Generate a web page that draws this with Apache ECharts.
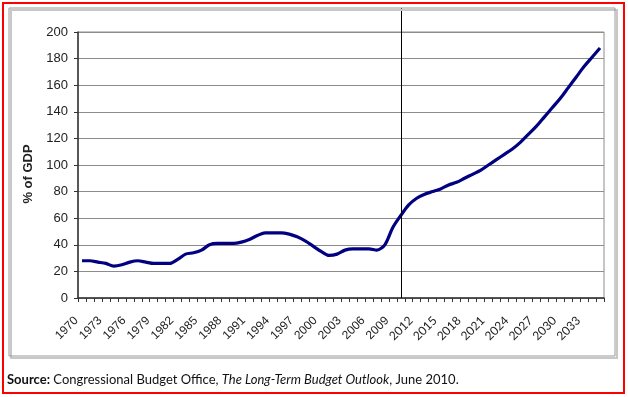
<!DOCTYPE html>
<html>
<head>
<meta charset="utf-8">
<script src="https://cdn.jsdelivr.net/npm/echarts@6/dist/echarts.min.js"></script>
<style>
html,body{margin:0;padding:0;background:#fff;}
#chart{width:628px;height:397px;}
</style>
</head>
<body>
<div id="chart"></div>
<script>
var years = ['1970','1971','1972','1973','1974','1975','1976','1977','1978','1979',
  '1980','1981','1982','1983','1984','1985','1986','1987','1988','1989',
  '1990','1991','1992','1993','1994','1995','1996','1997','1998','1999',
  '2000','2001','2002','2003','2004','2005','2006','2007','2008','2009',
  '2010','2011','2012','2013','2014','2015','2016','2017','2018','2019',
  '2020','2021','2022','2023','2024','2025','2026','2027','2028','2029',
  '2030','2031','2032','2033','2034','2035'];
var debtPctGDP = [28,28,27,26,24,25,27,28,27,26,
  26,26,29,33,34,36,40,41,41,41,
  42,44,47,49,49,49,48,46,43,39,
  35,32,33,36,37,37,37,36,40,53,
  62,70,75,78,80,82,85,87,90,93,
  96,100,104,108,112,117,123,129,136,143,
  150,158,166,174,181,188];
var yTicks = {min: 0, max: 200, step: 20};
var dividerYear = '2010';
var yAxisTitle = '% of GDP';
var sourceParts = ['Source:', 'Congressional Budget Office, ', 'The Long-Term Budget Outlook', ', June 2010.'];

var chart = echarts.init(document.getElementById('chart'), null, {renderer: 'canvas'});
var option = {
  backgroundColor: '#fff',
  animation: false,
  grid: {left: 78, right: 24, top: 32, bottom: 99, show: true, borderColor: '#8c8c8c', borderWidth: 1, containLabel: false},
  xAxis: {
    type: 'category',
    data: years,
    boundaryGap: true,
    axisLine: {lineStyle: {color: '#333', width: 1.5}},
    axisTick: {show: true, interval: 0, length: 4, lineStyle: {color: '#333'}},
    axisLabel: {
      interval: 2, rotate: 45, margin: 15,
      formatter: function (v) { return (+v >= 2012 ? '{g|' : '{a|') + v + '}'; },
      rich: {
        a: {fontFamily: 'Liberation Sans, Arial, sans-serif', fontSize: 12, color: '#222', padding: [0, 8, 0, 0]},
        g: {fontFamily: 'Lato, sans-serif', fontSize: 12, color: '#222', padding: [0, 8, 0, 0]}
      }
    },
    splitLine: {show: false}
  },
  yAxis: {
    type: 'value',
    min: yTicks.min, max: yTicks.max, interval: yTicks.step,
    name: yAxisTitle,
    nameLocation: 'middle',
    nameGap: 38,
    nameTextStyle: {fontFamily: 'Liberation Sans, Arial, sans-serif', fontWeight: 'bold', fontSize: 13, color: '#222', padding: [0, 18, 0, 0]},
    axisLine: {show: true, lineStyle: {color: '#333', width: 1.5}},
    axisTick: {show: true, length: 4, lineStyle: {color: '#333'}},
    axisLabel: {fontFamily: 'Liberation Sans, Arial, sans-serif', fontSize: 13, color: '#222', margin: 10},
    splitLine: {show: true, lineStyle: {color: '#8c8c8c', width: 1}}
  },
  series: [{
    type: 'line',
    data: debtPctGDP,
    smooth: 0.3,
    symbol: 'none',
    lineStyle: {color: '#000080', width: 3.2},
    z: 5
  }]
};
chart.setOption(option);

var xDiv = chart.convertToPixel({xAxisIndex: 0}, dividerYear);
var yBottom = chart.convertToPixel({yAxisIndex: 0}, yTicks.min);
chart.setOption({
  graphic: [
    {type: 'rect', shape: {x: 3, y: 3, width: 621, height: 390}, style: {fill: 'none', stroke: '#ff0000', lineWidth: 2}, z: 100, silent: true},
    {type: 'rect', shape: {x: 11, y: 10, width: 606, height: 348}, style: {fill: 'none', stroke: '#c8c8c8', lineWidth: 2}, z: 90, silent: true},
    {type: 'rect', shape: {x: 9, y: 8, width: 606, height: 348}, style: {fill: 'none', stroke: '#999', lineWidth: 1}, z: 91, silent: true},
    {type: 'line', shape: {x1: Math.round(xDiv) + 0.5, y1: 8, x2: Math.round(xDiv) + 0.5, y2: yBottom}, style: {stroke: '#000', lineWidth: 1}, z: 50, silent: true},
    {type: 'text', x: 7, y: 380, style: {
      text: '{b|' + sourceParts[0] + '} {n|' + sourceParts[1] + '}{i|' + sourceParts[2] + '}{n|' + sourceParts[3] + '}',
      verticalAlign: 'middle',
      rich: {
        b: {fontFamily: 'Lato, sans-serif', fontWeight: 'bold', fontSize: 13, fill: '#111'},
        n: {fontFamily: 'Lato, sans-serif', fontSize: 13, fill: '#111'},
        i: {fontFamily: 'Lato, sans-serif', fontStyle: 'italic', fontSize: 13, fill: '#111'}
      }
    }, z: 100, silent: true}
  ]
});
</script>
</body>
</html>
